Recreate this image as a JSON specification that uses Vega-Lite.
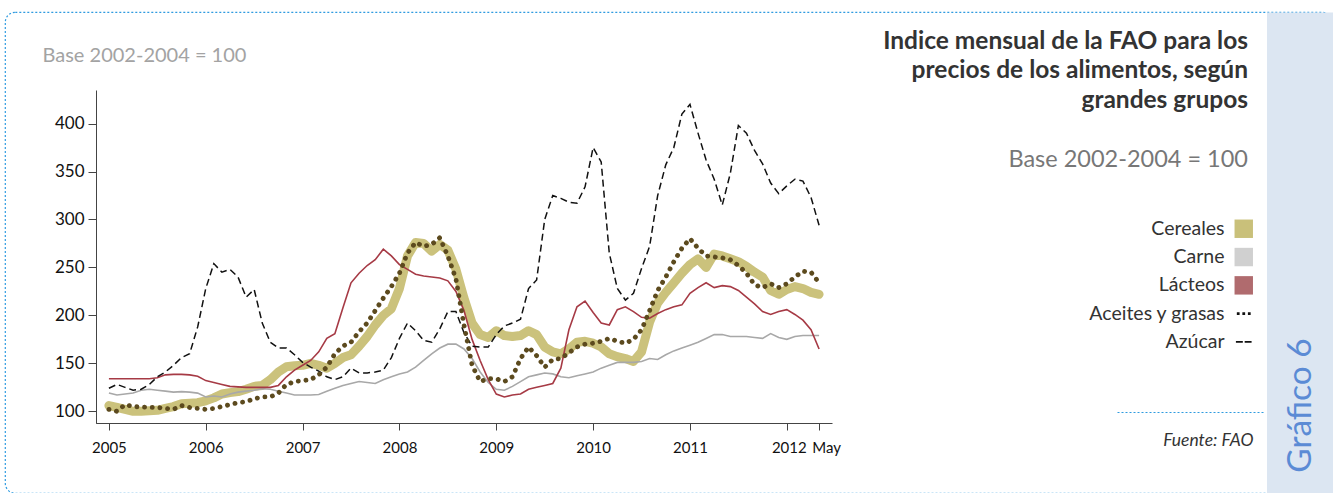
{
  "$schema": "https://vega.github.io/schema/vega-lite/v6.json",
  "width": 1327,
  "height": 481,
  "autosize": {"type": "none"},
  "padding": {"left": 5, "top": 12, "right": 1, "bottom": 0},
  "background": "white",
  "config": {
    "font": "Lato",
    "view": {"stroke": "#2f9be0", "strokeDash": [2, 2], "strokeWidth": 1.2, "cornerRadius": 10, "fill": "white"},
    "axis": {"grid": false}
  },
  "title": {
    "text": ["Indice mensual de la FAO para los", "precios de los alimentos, según", "grandes grupos"],
    "subtitle": "Base 2002-2004 = 100",
    "anchor": "end",
    "frame": "group",
    "orient": "top",
    "align": "right",
    "dx": -84,
    "offset": -160,
    "font": "Lato",
    "fontSize": 24.5,
    "fontWeight": "bold",
    "color": "#333333",
    "lineHeight": 29.5,
    "subtitleFont": "Lato",
    "subtitleFontSize": 23.5,
    "subtitleColor": "#777777",
    "subtitlePadding": 34.5
  },
  "datasets": {
    "indices": [
      {"mes":0,"serie":"Cereales","valor":106},{"mes":1,"serie":"Cereales","valor":104},{"mes":2,"serie":"Cereales","valor":102},{"mes":3,"serie":"Cereales","valor":100},{"mes":4,"serie":"Cereales","valor":100},{"mes":5,"serie":"Cereales","valor":100.5},{"mes":6,"serie":"Cereales","valor":101},{"mes":7,"serie":"Cereales","valor":103},{"mes":8,"serie":"Cereales","valor":105},{"mes":9,"serie":"Cereales","valor":108},
      {"mes":10,"serie":"Cereales","valor":108.5},{"mes":11,"serie":"Cereales","valor":109},{"mes":12,"serie":"Cereales","valor":111},{"mes":13,"serie":"Cereales","valor":114},{"mes":14,"serie":"Cereales","valor":118},{"mes":15,"serie":"Cereales","valor":119.5},{"mes":16,"serie":"Cereales","valor":120.5},{"mes":17,"serie":"Cereales","valor":123},{"mes":18,"serie":"Cereales","valor":126},{"mes":19,"serie":"Cereales","valor":127},
      {"mes":20,"serie":"Cereales","valor":133},{"mes":21,"serie":"Cereales","valor":141},{"mes":22,"serie":"Cereales","valor":146.5},{"mes":23,"serie":"Cereales","valor":147.5},{"mes":24,"serie":"Cereales","valor":148},{"mes":25,"serie":"Cereales","valor":150},{"mes":26,"serie":"Cereales","valor":148},{"mes":27,"serie":"Cereales","valor":145},{"mes":28,"serie":"Cereales","valor":150},{"mes":29,"serie":"Cereales","valor":156},
      {"mes":30,"serie":"Cereales","valor":159},{"mes":31,"serie":"Cereales","valor":168},{"mes":32,"serie":"Cereales","valor":178},{"mes":33,"serie":"Cereales","valor":190},{"mes":34,"serie":"Cereales","valor":200},{"mes":35,"serie":"Cereales","valor":207},{"mes":36,"serie":"Cereales","valor":228},{"mes":37,"serie":"Cereales","valor":262},{"mes":38,"serie":"Cereales","valor":276},{"mes":39,"serie":"Cereales","valor":275},
      {"mes":40,"serie":"Cereales","valor":267},{"mes":41,"serie":"Cereales","valor":274},{"mes":42,"serie":"Cereales","valor":268},{"mes":43,"serie":"Cereales","valor":248},{"mes":44,"serie":"Cereales","valor":218},{"mes":45,"serie":"Cereales","valor":192},{"mes":46,"serie":"Cereales","valor":180},{"mes":47,"serie":"Cereales","valor":177},{"mes":48,"serie":"Cereales","valor":184},{"mes":49,"serie":"Cereales","valor":179},
      {"mes":50,"serie":"Cereales","valor":178},{"mes":51,"serie":"Cereales","valor":179},{"mes":52,"serie":"Cereales","valor":184},{"mes":53,"serie":"Cereales","valor":180},{"mes":54,"serie":"Cereales","valor":167},{"mes":55,"serie":"Cereales","valor":162},{"mes":56,"serie":"Cereales","valor":160},{"mes":57,"serie":"Cereales","valor":165},{"mes":58,"serie":"Cereales","valor":172},{"mes":59,"serie":"Cereales","valor":173},
      {"mes":60,"serie":"Cereales","valor":171},{"mes":61,"serie":"Cereales","valor":167},{"mes":62,"serie":"Cereales","valor":160},{"mes":63,"serie":"Cereales","valor":157},{"mes":64,"serie":"Cereales","valor":155},{"mes":65,"serie":"Cereales","valor":152},{"mes":66,"serie":"Cereales","valor":162},{"mes":67,"serie":"Cereales","valor":193},{"mes":68,"serie":"Cereales","valor":213},{"mes":69,"serie":"Cereales","valor":224},
      {"mes":70,"serie":"Cereales","valor":234},{"mes":71,"serie":"Cereales","valor":244},{"mes":72,"serie":"Cereales","valor":253},{"mes":73,"serie":"Cereales","valor":259},{"mes":74,"serie":"Cereales","valor":250},{"mes":75,"serie":"Cereales","valor":264},{"mes":76,"serie":"Cereales","valor":262},{"mes":77,"serie":"Cereales","valor":259},{"mes":78,"serie":"Cereales","valor":256},{"mes":79,"serie":"Cereales","valor":251},
      {"mes":80,"serie":"Cereales","valor":245},{"mes":81,"serie":"Cereales","valor":240},{"mes":82,"serie":"Cereales","valor":226},{"mes":83,"serie":"Cereales","valor":222},{"mes":84,"serie":"Cereales","valor":227},{"mes":85,"serie":"Cereales","valor":230},{"mes":86,"serie":"Cereales","valor":228},{"mes":87,"serie":"Cereales","valor":224},{"mes":88,"serie":"Cereales","valor":222},

      {"mes":0,"serie":"Carne","valor":119},{"mes":1,"serie":"Carne","valor":117},{"mes":2,"serie":"Carne","valor":118},{"mes":3,"serie":"Carne","valor":119},{"mes":4,"serie":"Carne","valor":122},{"mes":5,"serie":"Carne","valor":123},{"mes":6,"serie":"Carne","valor":122},{"mes":7,"serie":"Carne","valor":121},{"mes":8,"serie":"Carne","valor":120},{"mes":9,"serie":"Carne","valor":120.5},
      {"mes":10,"serie":"Carne","valor":120},{"mes":11,"serie":"Carne","valor":119},{"mes":12,"serie":"Carne","valor":115},{"mes":13,"serie":"Carne","valor":116},{"mes":14,"serie":"Carne","valor":115},{"mes":15,"serie":"Carne","valor":118},{"mes":16,"serie":"Carne","valor":120},{"mes":17,"serie":"Carne","valor":121},{"mes":18,"serie":"Carne","valor":122},{"mes":19,"serie":"Carne","valor":123.5},
      {"mes":20,"serie":"Carne","valor":123},{"mes":21,"serie":"Carne","valor":121},{"mes":22,"serie":"Carne","valor":119},{"mes":23,"serie":"Carne","valor":117},{"mes":24,"serie":"Carne","valor":117},{"mes":25,"serie":"Carne","valor":117},{"mes":26,"serie":"Carne","valor":117.5},{"mes":27,"serie":"Carne","valor":121},{"mes":28,"serie":"Carne","valor":124},{"mes":29,"serie":"Carne","valor":127},
      {"mes":30,"serie":"Carne","valor":129},{"mes":31,"serie":"Carne","valor":131},{"mes":32,"serie":"Carne","valor":130},{"mes":33,"serie":"Carne","valor":129},{"mes":34,"serie":"Carne","valor":133},{"mes":35,"serie":"Carne","valor":136},{"mes":36,"serie":"Carne","valor":139},{"mes":37,"serie":"Carne","valor":141},{"mes":38,"serie":"Carne","valor":146},{"mes":39,"serie":"Carne","valor":153},
      {"mes":40,"serie":"Carne","valor":160},{"mes":41,"serie":"Carne","valor":166},{"mes":42,"serie":"Carne","valor":170},{"mes":43,"serie":"Carne","valor":170},{"mes":44,"serie":"Carne","valor":165},{"mes":45,"serie":"Carne","valor":155},{"mes":46,"serie":"Carne","valor":141},{"mes":47,"serie":"Carne","valor":130},{"mes":48,"serie":"Carne","valor":123},{"mes":49,"serie":"Carne","valor":122},
      {"mes":50,"serie":"Carne","valor":126},{"mes":51,"serie":"Carne","valor":131},{"mes":52,"serie":"Carne","valor":136},{"mes":53,"serie":"Carne","valor":138},{"mes":54,"serie":"Carne","valor":140},{"mes":55,"serie":"Carne","valor":139},{"mes":56,"serie":"Carne","valor":136},{"mes":57,"serie":"Carne","valor":135},{"mes":58,"serie":"Carne","valor":137},{"mes":59,"serie":"Carne","valor":139},
      {"mes":60,"serie":"Carne","valor":141},{"mes":61,"serie":"Carne","valor":145},{"mes":62,"serie":"Carne","valor":148},{"mes":63,"serie":"Carne","valor":151},{"mes":64,"serie":"Carne","valor":151},{"mes":65,"serie":"Carne","valor":151},{"mes":66,"serie":"Carne","valor":152},{"mes":67,"serie":"Carne","valor":155},{"mes":68,"serie":"Carne","valor":154},{"mes":69,"serie":"Carne","valor":159},
      {"mes":70,"serie":"Carne","valor":163},{"mes":71,"serie":"Carne","valor":166},{"mes":72,"serie":"Carne","valor":169},{"mes":73,"serie":"Carne","valor":172},{"mes":74,"serie":"Carne","valor":176},{"mes":75,"serie":"Carne","valor":180},{"mes":76,"serie":"Carne","valor":180},{"mes":77,"serie":"Carne","valor":178},{"mes":78,"serie":"Carne","valor":178},{"mes":79,"serie":"Carne","valor":178},
      {"mes":80,"serie":"Carne","valor":177},{"mes":81,"serie":"Carne","valor":176},{"mes":82,"serie":"Carne","valor":181},{"mes":83,"serie":"Carne","valor":177},{"mes":84,"serie":"Carne","valor":175},{"mes":85,"serie":"Carne","valor":178},{"mes":86,"serie":"Carne","valor":179},{"mes":87,"serie":"Carne","valor":179},{"mes":88,"serie":"Carne","valor":179},

      {"mes":0,"serie":"Lácteos","valor":134},{"mes":1,"serie":"Lácteos","valor":134},{"mes":2,"serie":"Lácteos","valor":134},{"mes":3,"serie":"Lácteos","valor":134},{"mes":4,"serie":"Lácteos","valor":134},{"mes":5,"serie":"Lácteos","valor":134},{"mes":6,"serie":"Lácteos","valor":135},{"mes":7,"serie":"Lácteos","valor":138},{"mes":8,"serie":"Lácteos","valor":138.5},{"mes":9,"serie":"Lácteos","valor":138.5},
      {"mes":10,"serie":"Lácteos","valor":138},{"mes":11,"serie":"Lácteos","valor":136.5},{"mes":12,"serie":"Lácteos","valor":132},{"mes":13,"serie":"Lácteos","valor":130},{"mes":14,"serie":"Lácteos","valor":128},{"mes":15,"serie":"Lácteos","valor":126},{"mes":16,"serie":"Lácteos","valor":125.5},{"mes":17,"serie":"Lácteos","valor":125},{"mes":18,"serie":"Lácteos","valor":125},{"mes":19,"serie":"Lácteos","valor":125},
      {"mes":20,"serie":"Lácteos","valor":125},{"mes":21,"serie":"Lácteos","valor":127},{"mes":22,"serie":"Lácteos","valor":136},{"mes":23,"serie":"Lácteos","valor":143},{"mes":24,"serie":"Lácteos","valor":148},{"mes":25,"serie":"Lácteos","valor":153},{"mes":26,"serie":"Lácteos","valor":162},{"mes":27,"serie":"Lácteos","valor":176},{"mes":28,"serie":"Lácteos","valor":181},{"mes":29,"serie":"Lácteos","valor":208},
      {"mes":30,"serie":"Lácteos","valor":234},{"mes":31,"serie":"Lácteos","valor":244},{"mes":32,"serie":"Lácteos","valor":252},{"mes":33,"serie":"Lácteos","valor":258},{"mes":34,"serie":"Lácteos","valor":269},{"mes":35,"serie":"Lácteos","valor":262},{"mes":36,"serie":"Lácteos","valor":253},{"mes":37,"serie":"Lácteos","valor":248},{"mes":38,"serie":"Lácteos","valor":243},{"mes":39,"serie":"Lácteos","valor":241},
      {"mes":40,"serie":"Lácteos","valor":240},{"mes":41,"serie":"Lácteos","valor":239},{"mes":42,"serie":"Lácteos","valor":236},{"mes":43,"serie":"Lácteos","valor":225},{"mes":44,"serie":"Lácteos","valor":205},{"mes":45,"serie":"Lácteos","valor":175},{"mes":46,"serie":"Lácteos","valor":153},{"mes":47,"serie":"Lácteos","valor":133},{"mes":48,"serie":"Lácteos","valor":118},{"mes":49,"serie":"Lácteos","valor":115},
      {"mes":50,"serie":"Lácteos","valor":117},{"mes":51,"serie":"Lácteos","valor":118},{"mes":52,"serie":"Lácteos","valor":123},{"mes":53,"serie":"Lácteos","valor":125},{"mes":54,"serie":"Lácteos","valor":127},{"mes":55,"serie":"Lácteos","valor":129},{"mes":56,"serie":"Lácteos","valor":145},{"mes":57,"serie":"Lácteos","valor":185},{"mes":58,"serie":"Lácteos","valor":209},{"mes":59,"serie":"Lácteos","valor":215},
      {"mes":60,"serie":"Lácteos","valor":203},{"mes":61,"serie":"Lácteos","valor":192},{"mes":62,"serie":"Lácteos","valor":190},{"mes":63,"serie":"Lácteos","valor":206},{"mes":64,"serie":"Lácteos","valor":209},{"mes":65,"serie":"Lácteos","valor":204},{"mes":66,"serie":"Lácteos","valor":198},{"mes":67,"serie":"Lácteos","valor":197},{"mes":68,"serie":"Lácteos","valor":202},{"mes":69,"serie":"Lácteos","valor":206},
      {"mes":70,"serie":"Lácteos","valor":209},{"mes":71,"serie":"Lácteos","valor":211},{"mes":72,"serie":"Lácteos","valor":223},{"mes":73,"serie":"Lácteos","valor":229},{"mes":74,"serie":"Lácteos","valor":234},{"mes":75,"serie":"Lácteos","valor":229},{"mes":76,"serie":"Lácteos","valor":231},{"mes":77,"serie":"Lácteos","valor":230},{"mes":78,"serie":"Lácteos","valor":226},{"mes":79,"serie":"Lácteos","valor":219},
      {"mes":80,"serie":"Lácteos","valor":212},{"mes":81,"serie":"Lácteos","valor":204},{"mes":82,"serie":"Lácteos","valor":201},{"mes":83,"serie":"Lácteos","valor":204},{"mes":84,"serie":"Lácteos","valor":206},{"mes":85,"serie":"Lácteos","valor":201},{"mes":86,"serie":"Lácteos","valor":195},{"mes":87,"serie":"Lácteos","valor":185},{"mes":88,"serie":"Lácteos","valor":165},

      {"mes":0,"serie":"Aceites y grasas","valor":102},{"mes":1,"serie":"Aceites y grasas","valor":100},{"mes":2,"serie":"Aceites y grasas","valor":107},{"mes":3,"serie":"Aceites y grasas","valor":105},{"mes":4,"serie":"Aceites y grasas","valor":104.5},{"mes":5,"serie":"Aceites y grasas","valor":104},{"mes":6,"serie":"Aceites y grasas","valor":104},{"mes":7,"serie":"Aceites y grasas","valor":103},{"mes":8,"serie":"Aceites y grasas","valor":102},{"mes":9,"serie":"Aceites y grasas","valor":106},
      {"mes":10,"serie":"Aceites y grasas","valor":104},{"mes":11,"serie":"Aceites y grasas","valor":103},{"mes":12,"serie":"Aceites y grasas","valor":102},{"mes":13,"serie":"Aceites y grasas","valor":103},{"mes":14,"serie":"Aceites y grasas","valor":105},{"mes":15,"serie":"Aceites y grasas","valor":107},{"mes":16,"serie":"Aceites y grasas","valor":109},{"mes":17,"serie":"Aceites y grasas","valor":110},{"mes":18,"serie":"Aceites y grasas","valor":113},{"mes":19,"serie":"Aceites y grasas","valor":115},
      {"mes":20,"serie":"Aceites y grasas","valor":115},{"mes":21,"serie":"Aceites y grasas","valor":119},{"mes":22,"serie":"Aceites y grasas","valor":128},{"mes":23,"serie":"Aceites y grasas","valor":131},{"mes":24,"serie":"Aceites y grasas","valor":132},{"mes":25,"serie":"Aceites y grasas","valor":133},{"mes":26,"serie":"Aceites y grasas","valor":138},{"mes":27,"serie":"Aceites y grasas","valor":146},{"mes":28,"serie":"Aceites y grasas","valor":160},{"mes":29,"serie":"Aceites y grasas","valor":168},
      {"mes":30,"serie":"Aceites y grasas","valor":172},{"mes":31,"serie":"Aceites y grasas","valor":183},{"mes":32,"serie":"Aceites y grasas","valor":192},{"mes":33,"serie":"Aceites y grasas","valor":205},{"mes":34,"serie":"Aceites y grasas","valor":218},{"mes":35,"serie":"Aceites y grasas","valor":230},{"mes":36,"serie":"Aceites y grasas","valor":244},{"mes":37,"serie":"Aceites y grasas","valor":265},{"mes":38,"serie":"Aceites y grasas","valor":276},{"mes":39,"serie":"Aceites y grasas","valor":272},
      {"mes":40,"serie":"Aceites y grasas","valor":274},{"mes":41,"serie":"Aceites y grasas","valor":281},{"mes":42,"serie":"Aceites y grasas","valor":262},{"mes":43,"serie":"Aceites y grasas","valor":238},{"mes":44,"serie":"Aceites y grasas","valor":190},{"mes":45,"serie":"Aceites y grasas","valor":148},{"mes":46,"serie":"Aceites y grasas","valor":131},{"mes":47,"serie":"Aceites y grasas","valor":134},{"mes":48,"serie":"Aceites y grasas","valor":134},{"mes":49,"serie":"Aceites y grasas","valor":131},
      {"mes":50,"serie":"Aceites y grasas","valor":136},{"mes":51,"serie":"Aceites y grasas","valor":155},{"mes":52,"serie":"Aceites y grasas","valor":167},{"mes":53,"serie":"Aceites y grasas","valor":158},{"mes":54,"serie":"Aceites y grasas","valor":146},{"mes":55,"serie":"Aceites y grasas","valor":154},{"mes":56,"serie":"Aceites y grasas","valor":155},{"mes":57,"serie":"Aceites y grasas","valor":161},{"mes":58,"serie":"Aceites y grasas","valor":167},{"mes":59,"serie":"Aceites y grasas","valor":170},
      {"mes":60,"serie":"Aceites y grasas","valor":171},{"mes":61,"serie":"Aceites y grasas","valor":173},{"mes":62,"serie":"Aceites y grasas","valor":176},{"mes":63,"serie":"Aceites y grasas","valor":173},{"mes":64,"serie":"Aceites y grasas","valor":171},{"mes":65,"serie":"Aceites y grasas","valor":175},{"mes":66,"serie":"Aceites y grasas","valor":185},{"mes":67,"serie":"Aceites y grasas","valor":205},{"mes":68,"serie":"Aceites y grasas","valor":226},{"mes":69,"serie":"Aceites y grasas","valor":240},
      {"mes":70,"serie":"Aceites y grasas","valor":256},{"mes":71,"serie":"Aceites y grasas","valor":270},{"mes":72,"serie":"Aceites y grasas","valor":280},{"mes":73,"serie":"Aceites y grasas","valor":270},{"mes":74,"serie":"Aceites y grasas","valor":262},{"mes":75,"serie":"Aceites y grasas","valor":261},{"mes":76,"serie":"Aceites y grasas","valor":260},{"mes":77,"serie":"Aceites y grasas","valor":258},{"mes":78,"serie":"Aceites y grasas","valor":252},{"mes":79,"serie":"Aceites y grasas","valor":244},
      {"mes":80,"serie":"Aceites y grasas","valor":232},{"mes":81,"serie":"Aceites y grasas","valor":229},{"mes":82,"serie":"Aceites y grasas","valor":233},{"mes":83,"serie":"Aceites y grasas","valor":229},{"mes":84,"serie":"Aceites y grasas","valor":233},{"mes":85,"serie":"Aceites y grasas","valor":240},{"mes":86,"serie":"Aceites y grasas","valor":246},{"mes":87,"serie":"Aceites y grasas","valor":245},{"mes":88,"serie":"Aceites y grasas","valor":234},

      {"mes":0,"serie":"Azúcar","valor":124},{"mes":1,"serie":"Azúcar","valor":128},{"mes":2,"serie":"Azúcar","valor":125},{"mes":3,"serie":"Azúcar","valor":122},{"mes":4,"serie":"Azúcar","valor":123},{"mes":5,"serie":"Azúcar","valor":128},{"mes":6,"serie":"Azúcar","valor":136},{"mes":7,"serie":"Azúcar","valor":141},{"mes":8,"serie":"Azúcar","valor":148},{"mes":9,"serie":"Azúcar","valor":156},
      {"mes":10,"serie":"Azúcar","valor":160},{"mes":11,"serie":"Azúcar","valor":188},{"mes":12,"serie":"Azúcar","valor":228},{"mes":13,"serie":"Azúcar","valor":254},{"mes":14,"serie":"Azúcar","valor":245},{"mes":15,"serie":"Azúcar","valor":248},{"mes":16,"serie":"Azúcar","valor":240},{"mes":17,"serie":"Azúcar","valor":219},{"mes":18,"serie":"Azúcar","valor":227},{"mes":19,"serie":"Azúcar","valor":192},
      {"mes":20,"serie":"Azúcar","valor":172},{"mes":21,"serie":"Azúcar","valor":166},{"mes":22,"serie":"Azúcar","valor":166},{"mes":23,"serie":"Azúcar","valor":159},{"mes":24,"serie":"Azúcar","valor":151},{"mes":25,"serie":"Azúcar","valor":146},{"mes":26,"serie":"Azúcar","valor":142},{"mes":27,"serie":"Azúcar","valor":136},{"mes":28,"serie":"Azúcar","valor":133},{"mes":29,"serie":"Azúcar","valor":136},
      {"mes":30,"serie":"Azúcar","valor":145},{"mes":31,"serie":"Azúcar","valor":140},{"mes":32,"serie":"Azúcar","valor":140},{"mes":33,"serie":"Azúcar","valor":141},{"mes":34,"serie":"Azúcar","valor":143},{"mes":35,"serie":"Azúcar","valor":156},{"mes":36,"serie":"Azúcar","valor":176},{"mes":37,"serie":"Azúcar","valor":192},{"mes":38,"serie":"Azúcar","valor":184},{"mes":39,"serie":"Azúcar","valor":174},
      {"mes":40,"serie":"Azúcar","valor":172},{"mes":41,"serie":"Azúcar","valor":186},{"mes":42,"serie":"Azúcar","valor":204},{"mes":43,"serie":"Azúcar","valor":204},{"mes":44,"serie":"Azúcar","valor":182},{"mes":45,"serie":"Azúcar","valor":168},{"mes":46,"serie":"Azúcar","valor":167},{"mes":47,"serie":"Azúcar","valor":167},{"mes":48,"serie":"Azúcar","valor":180},{"mes":49,"serie":"Azúcar","valor":189},
      {"mes":50,"serie":"Azúcar","valor":192},{"mes":51,"serie":"Azúcar","valor":196},{"mes":52,"serie":"Azúcar","valor":228},{"mes":53,"serie":"Azúcar","valor":237},{"mes":54,"serie":"Azúcar","valor":300},{"mes":55,"serie":"Azúcar","valor":325},{"mes":56,"serie":"Azúcar","valor":322},{"mes":57,"serie":"Azúcar","valor":318},{"mes":58,"serie":"Azúcar","valor":317},{"mes":59,"serie":"Azúcar","valor":334},
      {"mes":60,"serie":"Azúcar","valor":375},{"mes":61,"serie":"Azúcar","valor":360},{"mes":62,"serie":"Azúcar","valor":265},{"mes":63,"serie":"Azúcar","valor":228},{"mes":64,"serie":"Azúcar","valor":216},{"mes":65,"serie":"Azúcar","valor":223},{"mes":66,"serie":"Azúcar","valor":249},{"mes":67,"serie":"Azúcar","valor":272},{"mes":68,"serie":"Azúcar","valor":325},{"mes":69,"serie":"Azúcar","valor":357},
      {"mes":70,"serie":"Azúcar","valor":375},{"mes":71,"serie":"Azúcar","valor":410},{"mes":72,"serie":"Azúcar","valor":420},{"mes":73,"serie":"Azúcar","valor":390},{"mes":74,"serie":"Azúcar","valor":362},{"mes":75,"serie":"Azúcar","valor":342},{"mes":76,"serie":"Azúcar","valor":315},{"mes":77,"serie":"Azúcar","valor":348},{"mes":78,"serie":"Azúcar","valor":398},{"mes":79,"serie":"Azúcar","valor":390},
      {"mes":80,"serie":"Azúcar","valor":372},{"mes":81,"serie":"Azúcar","valor":358},{"mes":82,"serie":"Azúcar","valor":338},{"mes":83,"serie":"Azúcar","valor":327},{"mes":84,"serie":"Azúcar","valor":335},{"mes":85,"serie":"Azúcar","valor":342},{"mes":86,"serie":"Azúcar","valor":340},{"mes":87,"serie":"Azúcar","valor":323},{"mes":88,"serie":"Azúcar","valor":294}
    ]
  },
  "resolve": {
    "scale": {"x": "independent", "y": "independent"},
    "axis": {"x": "independent", "y": "independent"}
  },
  "layer": [
    {
      "data": {"name": "indices"},
      "encoding": {
        "x": {
          "field": "mes", "type": "quantitative",
          "scale": {"domain": [-1.6, 89.6], "range": [91, 827], "nice": false, "zero": false},
          "axis": {
            "orient": "bottom", "offset": -70,
            "values": [0, 12, 24, 36, 48, 60, 72, 84, 88],
            "labelExpr": "datum.value == 88 ? 'May' : format(2005 + datum.value / 12, 'd')",
            "labelOffset": {"condition": [{"test": "datum.value == 88", "value": 7}, {"test": "datum.value == 84", "value": 2}], "value": 0},
            "labelOverlap": false, "labelFontSize": 15, "labelColor": "#111111", "labelPadding": 10,
            "tickSize": 7, "tickColor": "#444444", "domainColor": "#444444", "grid": false,
            "title": "Fuente: FAO", "titleX": 1248, "titleY": 17, "titleAlign": "right", "titleBaseline": "middle",
            "titleFontStyle": "italic", "titleFontWeight": "normal", "titleFontSize": 17.5, "titleColor": "#333333"
          }
        },
        "y": {
          "field": "valor", "type": "quantitative",
          "scale": {"domain": [87.5, 435], "range": [411.3, 78], "nice": false, "zero": false},
          "axis": {
            "orient": "left", "offset": -91,
            "values": [100, 150, 200, 250, 300, 350, 400],
            "labelFontSize": 17, "labelColor": "#111111", "labelPadding": 4,
            "tickSize": 8, "tickColor": "#444444", "domainColor": "#444444", "grid": false,
            "title": "Base 2002-2004 = 100", "titleAngle": 0, "titleX": -54, "titleY": 43,
            "titleAlign": "left", "titleBaseline": "middle", "titleFontWeight": "normal",
            "titleFontSize": 20, "titleColor": "#a3a3a3"
          }
        },
        "color": {
          "field": "serie", "type": "nominal",
          "scale": {
            "domain": ["Cereales", "Carne", "Lácteos", "Aceites y grasas", "Azúcar"],
            "range": ["#cbc27c", "#a8a8a8", "#a63a45", "#5c4a1e", "#111111"]
          },
          "legend": {
            "orient": "none", "legendX": 1229, "legendY": 207, "title": null, "padding": 0,
            "symbolType": "square", "symbolSize": 340, "symbolStrokeWidth": 0,
            "labelFontSize": 19.5, "labelColor": "#333333", "labelFont": "Lato",
            "labelAlign": "right", "labelOffset": -29, "rowPadding": 7.3,
            "encode": {
              "symbols": {
                "update": {
                  "shape": {"signal": "datum.value === 'Aceites y grasas' ? 'M-0.75,-0.15h0.3v0.3h-0.3Z M-0.15,-0.15h0.3v0.3h-0.3Z M0.45,-0.15h0.3v0.3h-0.3Z' : datum.value === 'Azúcar' ? 'M-0.85,-0.1h0.75v0.2h-0.75Z M0.1,-0.1h0.75v0.2h-0.75Z' : 'square'"},
                  "fill": {"signal": "datum.value === 'Cereales' ? '#c9c07a' : datum.value === 'Carne' ? '#d0d0d0' : datum.value === 'Lácteos' ? '#b06b6e' : '#111111'"},
                  "stroke": {"value": "transparent"},
                  "strokeWidth": {"value": 0},
                  "opacity": {"value": 1},
                  "fillOpacity": {"value": 1}
                }
              }
            }
          }
        }
      },
      "layer": [
        {
          "transform": [{"filter": "datum.serie === 'Cereales'"}],
          "mark": {"type": "line", "strokeWidth": 9, "strokeCap": "round", "strokeJoin": "round"}
        },
        {
          "transform": [{"filter": "datum.serie === 'Carne'"}],
          "mark": {"type": "line", "strokeWidth": 1.6}
        },
        {
          "transform": [{"filter": "datum.serie === 'Lácteos'"}],
          "mark": {"type": "line", "strokeWidth": 1.6}
        },
        {
          "transform": [{"filter": "datum.serie === 'Azúcar'"}],
          "mark": {"type": "line", "strokeWidth": 1.5, "strokeDash": [7, 4]}
        },
        {
          "transform": [{"filter": "datum.serie === 'Aceites y grasas'"}],
          "mark": {"type": "line", "strokeWidth": 4.8, "strokeDash": [0.1, 7.6], "strokeCap": "round"}
        }
      ]
    },
    {
      "data": {"values": []},
      "mark": {"type": "rule", "opacity": 0},
      "encoding": {
        "x": {
          "field": "px", "type": "quantitative",
          "scale": {"domain": [0, 1327], "nice": false, "zero": false},
          "axis": {
            "orient": "top", "values": [1294.5], "grid": true, "gridWidth": 67, "gridColor": "#dce6f2", "gridOpacity": 1,
            "labels": false, "ticks": false, "domain": false,
            "title": "Gráfico 6", "titleAngle": 270, "titleX": 1295, "titleY": 393,
            "titleAlign": "center", "titleBaseline": "middle", "titleFontSize": 33.5,
            "titleFontWeight": "normal", "titleColor": "#5b8bd5", "titleFont": "Lato"
          }
        },
        "y": {
          "field": "py", "type": "quantitative",
          "scale": {"domain": [0, 481], "reverse": true, "nice": false, "zero": false},
          "axis": {
            "orient": "right", "offset": -215, "values": [400],
            "ticks": true, "tickSize": 146, "tickColor": "#2f9be0", "tickDash": [2, 2], "tickWidth": 1.2,
            "labels": false, "domain": false, "grid": false, "title": null
          }
        }
      }
    }
  ]
}
